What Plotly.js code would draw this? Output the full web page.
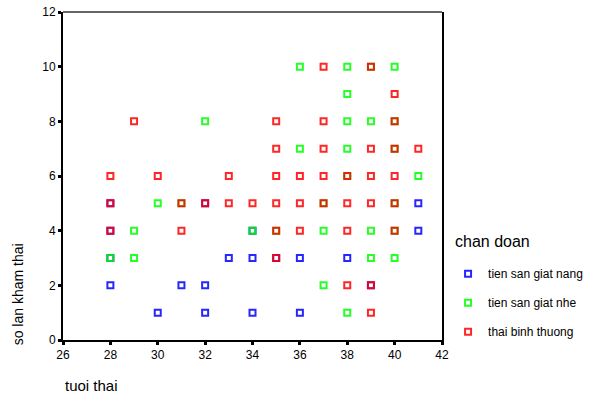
<!DOCTYPE html>
<html>
<head>
<meta charset="utf-8">
<script src="https://cdn.plot.ly/plotly-3.0.1.min.js"></script>
<style>html,body{margin:0;padding:0;background:#fff;}#chart{width:595px;height:398px;}</style>
</head>
<body>
<div id="chart"></div>
<script>
// tien san giat nang (blue)
var nangX = [28, 28, 28, 28, 30, 31, 32, 32, 32, 33, 34, 34, 34, 35, 36, 36, 38, 39, 41, 41];
var nangY = [5, 4, 3, 2, 1, 2, 5, 2, 1, 3, 4, 3, 1, 3, 3, 1, 3, 2, 5, 4];
// tien san giat nhe (green)
var nheX = [28, 29, 29, 30, 31, 32, 34, 35, 36, 36, 37, 37, 37, 38, 38, 38, 38, 38, 38, 39, 39, 39, 39, 40, 40, 40, 40, 40, 40, 41];
var nheY = [3, 4, 3, 5, 5, 8, 4, 4, 10, 7, 5, 4, 2, 10, 9, 8, 7, 6, 1, 10, 8, 4, 3, 10, 8, 7, 5, 4, 3, 6];
// thai binh thuong (red)
var thuongX = [28, 28, 28, 29, 30, 31, 31, 32, 33, 33, 34, 35, 35, 35, 35, 35, 35, 36, 36, 36, 37, 37, 37, 37, 37, 38, 38, 38, 38, 39, 39, 39, 39, 39, 39, 40, 40, 40, 40, 40, 40, 41];
var thuongY = [6, 5, 4, 8, 6, 5, 4, 5, 6, 5, 5, 8, 7, 6, 5, 4, 3, 6, 5, 4, 10, 8, 7, 6, 5, 6, 5, 4, 2, 10, 7, 6, 5, 2, 1, 9, 8, 7, 6, 5, 4, 7];

var seriesNames = ["tien san giat nang", "tien san giat nhe", "thai binh thuong"];
var seriesColors = ["#0000ff", "#00ff00", "#ff0000"];
var legendTitle = "chan doan";

var FONT = "Arial, 'Liberation Sans', sans-serif";

function mk(x, y, i) {
  return {
    type: "scatter", mode: "markers", x: x, y: y, name: seriesNames[i],
    legendgroup: "g" + i,
    marker: {symbol: "square-open", size: 6, color: seriesColors[i], opacity: 0.85,
             line: {width: 2, color: seriesColors[i]}},
    hoverinfo: "x+y"
  };
}

var data = [mk(nangX, nangY, 0), mk(nheX, nheY, 1), mk(thuongX, thuongY, 2)];

var axisCommon = {
  showgrid: false, zeroline: false, showline: true, linecolor: "#000", linewidth: 2,
  ticks: "outside", ticklen: 3, tickwidth: 3, tickcolor: "#000",
  tickfont: {family: FONT, size: 12, color: "#000"}, dtick: 2
};

var layout = {
  width: 595, height: 398,
  margin: {l: 63, r: 153, t: 12, b: 58, autoexpand: false},
  paper_bgcolor: "#fff", plot_bgcolor: "#fff",
  font: {family: FONT, color: "#000"},
  xaxis: Object.assign({}, axisCommon, {range: [26, 42], tick0: 26, mirror: false}),
  yaxis: Object.assign({}, axisCommon, {range: [0, 12], tick0: 0, mirror: true}),
  showlegend: true,
  legend: {
    x: 1.016, xanchor: "left", y: 0.246, yanchor: "top",
    font: {family: FONT, size: 12, color: "#000"},
    tracegroupgap: 10, itemwidth: 30, bgcolor: "rgba(0,0,0,0)"
  },
  shapes: [
    {type: "line", xref: "paper", yref: "paper", x0: 0, x1: 1, y0: 1, y1: 1, line: {color: "#666", width: 2}}
  ],
  annotations: [
    {text: legendTitle, xref: "paper", yref: "paper", x: 1.03, xanchor: "left", y: 0.299, yanchor: "middle",
     showarrow: false, font: {family: FONT, size: 16, color: "#000"}},
    {text: "tuoi thai", xref: "paper", yref: "paper", x: 0, xanchor: "left", y: -0.138, yanchor: "middle",
     showarrow: false, font: {family: FONT, size: 15, color: "#000"}},
    {text: "so lan kham thai", xref: "paper", yref: "paper", x: -0.118, xanchor: "center", y: 0.14, yanchor: "middle",
     textangle: -90, showarrow: false, font: {family: FONT, size: 14, color: "#000"}}
  ]
};

Plotly.newPlot("chart", data, layout, {displayModeBar: false, staticPlot: true});
</script>
</body>
</html>
